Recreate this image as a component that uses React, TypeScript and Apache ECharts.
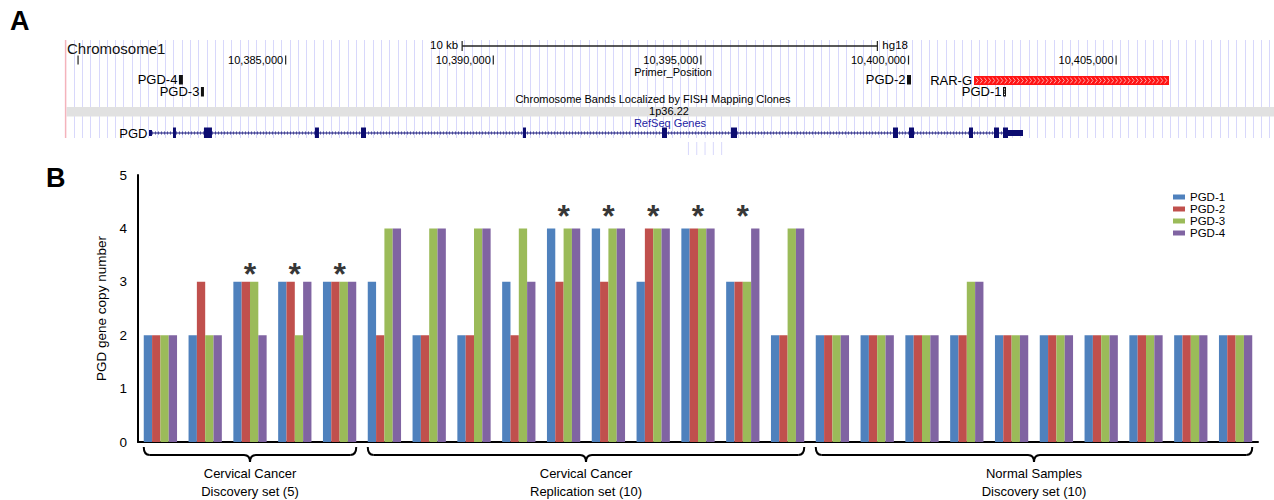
import React, { useEffect, useRef } from 'react';
import * as echarts from 'echarts';

const FONT = '"Liberation Sans", Arial, Helvetica, sans-serif';

// ---------- Panel B data ----------
const samples = [
  'D1', 'D2', 'D3', 'D4', 'D5',
  'R1', 'R2', 'R3', 'R4', 'R5', 'R6', 'R7', 'R8', 'R9', 'R10',
  'N1', 'N2', 'N3', 'N4', 'N5', 'N6', 'N7', 'N8', 'N9', 'N10',
];
const seriesNames = ['PGD-1', 'PGD-2', 'PGD-3', 'PGD-4'];
const seriesColors = ['#4f81bd', '#c0504d', '#9bbb59', '#8064a2'];
const pgd1 = [2, 2, 3, 3, 3, 3, 2, 2, 3, 4, 4, 3, 4, 3, 2, 2, 2, 2, 2, 2, 2, 2, 2, 2, 2];
const pgd2 = [2, 3, 3, 3, 3, 2, 2, 2, 2, 3, 3, 4, 4, 3, 2, 2, 2, 2, 2, 2, 2, 2, 2, 2, 2];
const pgd3 = [2, 2, 3, 2, 3, 4, 4, 4, 4, 4, 4, 4, 4, 3, 4, 2, 2, 2, 3, 2, 2, 2, 2, 2, 2];
const pgd4 = [2, 2, 2, 3, 3, 4, 4, 4, 3, 4, 4, 4, 4, 4, 4, 2, 2, 2, 3, 2, 2, 2, 2, 2, 2];
const seriesValues = [pgd1, pgd2, pgd3, pgd4];
const yMin = 0;
const yMax = 5;
const yInterval = 1;
// asterisk markers: [sample index, height in copy-number units]
const asterisks: [number, number][] = [
  [2, 3.3], [3, 3.3], [4, 3.3],
  [9, 4.4], [10, 4.4], [11, 4.4], [12, 4.4], [13, 4.4],
];
const sampleGroups = [
  { label: 'Cervical Cancer\nDiscovery set (5)', from: 0, to: 4 },
  { label: 'Cervical Cancer\nReplication set (10)', from: 5, to: 14 },
  { label: 'Normal Samples\nDiscovery set (10)', from: 15, to: 24 },
];
const BAR_CATEGORY_GAP = 0.257;

// ---------- Panel A data (hg18 coordinates) ----------
const viewStart = 10379700;
const viewEnd = 10408800;
const gridStep = 200;
const positionTicks = [10380000, 10385000, 10390000, 10395000, 10400000, 10405000];
const positionTickLabels = ['', '10,385,000', '10,390,000', '10,395,000', '10,400,000', '10,405,000'];
const scaleBar = [10389250, 10399250];
const primers: { name: string; start: number; end: number; row: number; hollow?: boolean }[] = [
  { name: 'PGD-4', start: 10382429, end: 10382525, row: 0 },
  { name: 'PGD-3', start: 10382959, end: 10383032, row: 1 },
  { name: 'PGD-2', start: 10399964, end: 10400060, row: 0 },
  { name: 'PGD-1', start: 10402276, end: 10402348, row: 1, hollow: true },
];
const rarG = { name: 'RAR-G', start: 10401578, end: 10406274 };
const pgdGene = { name: 'PGD', start: 10381708, end: 10402757 };
// [start, end, tall(1) / short(0)]
const pgdExons: [number, number, number][] = [
  [10381708, 10381780, 0],
  [10382286, 10382358, 1],
  [10383032, 10383225, 1],
  [10385706, 10385802, 1],
  [10386814, 10386934, 1],
  [10390716, 10390788, 1],
  [10394063, 10394184, 1],
  [10395725, 10395869, 1],
  [10399627, 10399747, 1],
  [10400012, 10400132, 1],
  [10401457, 10401553, 1],
  [10402059, 10402179, 1],
  [10402276, 10402396, 1],
  [10402396, 10402757, 0],
];
const ghostTicks = [10394700, 10394900, 10395100, 10395300, 10395500];

export default function App() {
  const ref = useRef<HTMLDivElement>(null);

  useEffect(() => {
    document.body.style.margin = '0';
    const chart = echarts.init(ref.current as HTMLDivElement, null, { renderer: 'svg' });

    const baseOption: any = {
      animation: false,
      textStyle: { fontFamily: FONT },
      grid: [
        { left: 138, right: 16, top: 175, bottom: 58, containLabel: false },
        { left: 65.6, right: 0.1, top: 40, height: 98, containLabel: false },
      ],
      legend: {
        data: seriesNames,
        orient: 'vertical',
        left: 1173,
        top: 191,
        icon: 'rect',
        itemWidth: 12,
        itemHeight: 5,
        itemGap: 0,
        padding: 0,
        textStyle: { fontSize: 11.5, color: '#000', lineHeight: 12, fontFamily: FONT },
      },
      xAxis: [
        {
          gridIndex: 0,
          type: 'category',
          data: samples,
          axisLine: { show: true, lineStyle: { color: '#000', width: 2 } },
          axisTick: { show: false },
          axisLabel: { show: false },
          splitLine: { show: false },
        },
        {
          gridIndex: 1,
          type: 'value',
          min: viewStart,
          max: viewEnd,
          interval: gridStep,
          axisLine: { show: false },
          axisTick: { show: false },
          axisLabel: { show: false },
          splitLine: { show: true, lineStyle: { color: '#d8d8fb', width: 1 } },
        },
      ],
      yAxis: [
        {
          gridIndex: 0,
          type: 'value',
          min: yMin,
          max: yMax,
          interval: yInterval,
          axisLine: { show: true, lineStyle: { color: '#000', width: 2 } },
          axisTick: { show: false },
          splitLine: { show: false },
          axisLabel: { fontSize: 13.5, color: '#000', margin: 11, fontFamily: FONT },
          name: 'PGD gene copy number',
          nameLocation: 'middle',
          nameGap: 27,
          nameTextStyle: { fontSize: 13.5, color: '#000', fontFamily: FONT },
        },
        {
          gridIndex: 1,
          type: 'value',
          min: 0,
          max: 1,
          show: false,
        },
      ],
      series: [
        ...seriesNames.map((name, i) => ({
          name,
          type: 'bar',
          xAxisIndex: 0,
          yAxisIndex: 0,
          data: seriesValues[i],
          barGap: '0%',
          barCategoryGap: `${BAR_CATEGORY_GAP * 100}%`,
          itemStyle: { color: seriesColors[i] },
        })),
        {
          name: 'significant',
          type: 'scatter',
          xAxisIndex: 0,
          yAxisIndex: 0,
          data: asterisks,
          symbolSize: 1,
          itemStyle: { color: 'rgba(0,0,0,0)' },
          label: {
            show: true,
            formatter: '*',
            position: 'inside',
            offset: [0, 8.5],
            fontSize: 32,
            fontWeight: 'bold',
            color: '#000',
            fontFamily: FONT,
          },
          z: 5,
        },
      ],
    };
    chart.setOption(baseOption);

    const gx = (bp: number) => chart.convertToPixel({ xAxisIndex: 1 } as any, bp) as unknown as number;
    const cx = (i: number) => chart.convertToPixel({ xAxisIndex: 0 } as any, i) as unknown as number;

    const els: any[] = [];
    const Z = 50;
    const txt = (text: string, x: number, y: number, o: any = {}) =>
      els.push({
        type: 'text',
        z: Z + 5,
        style: {
          text,
          x,
          y,
          fontFamily: FONT,
          fontSize: 11,
          fill: '#000',
          align: 'left',
          verticalAlign: 'middle',
          ...o,
        },
      });
    const line = (x1: number, y1: number, x2: number, y2: number, stroke = '#111', lineWidth = 1, extra: any = {}) =>
      els.push({ type: 'line', z: Z + 2, shape: { x1, y1, x2, y2 }, style: { stroke, lineWidth, ...extra } });
    const rect = (x: number, y: number, width: number, height: number, fill: string, z = Z + 3) =>
      els.push({ type: 'rect', z, shape: { x, y, width, height }, style: { fill } });

    // Panel letters
    txt('A', 10, 21, { fontSize: 27, fontWeight: 'bold', fill: '#000' });
    txt('B', 46, 178, { fontSize: 27, fontWeight: 'bold', fill: '#000' });

    // Panel A frame elements
    const left = gx(viewStart);
    const right = gx(viewEnd);
    line(left, 40, left, 138, '#f4b3bc', 1.5);
    rect(left + 1, 107, right - left, 9.5, '#e1e1e1', Z + 1);
    txt('Chromosome1', 67, 48, { fontSize: 15, fill: '#111' });

    // scale bar
    const sb0 = gx(scaleBar[0]);
    const sb1 = gx(scaleBar[1]);
    line(sb0, 46, sb1, 46, '#222', 1.3);
    line(sb0, 41, sb0, 51, '#222', 1.2);
    line(sb1, 41, sb1, 51, '#222', 1.2);
    txt('10 kb', sb0 - 4, 45, { align: 'right', fontSize: 11.5 });
    txt('hg18', sb1 + 5, 45, { fontSize: 11.5 });

    // position ticks
    positionTicks.forEach((t, i) => {
      const x = gx(t);
      line(x, 55.5, x, 64.5, '#222', 1.2);
      if (positionTickLabels[i]) txt(positionTickLabels[i], x - 2.5, 60, { align: 'right' });
    });

    txt('Primer_Position', 673, 72, { align: 'center' });
    txt('Chromosome Bands Localized by FISH Mapping Clones', 653, 98.5, { align: 'center' });
    txt('1p36.22', 669, 110.5, { align: 'center' });
    txt('RefSeq Genes', 670, 123, { align: 'center', fill: '#1d1da3' });

    // primers
    const rowTop = [75, 87];
    primers.forEach((p) => {
      const x0 = gx(p.start);
      const w = Math.max(gx(p.end) - x0, 3);
      rect(x0, rowTop[p.row], w, 9.5, '#111');
      if (p.hollow) {
        rect(x0 + 1, rowTop[p.row] + 1.5, w - 2, 6.5, '#fff', Z + 4);
        els.push({
          type: 'polyline',
          z: Z + 5,
          shape: { points: [[x0 + 1.2, rowTop[p.row] + 2.5], [x0 + w - 1.2, rowTop[p.row] + 4.75], [x0 + 1.2, rowTop[p.row] + 7]] },
          style: { stroke: '#111', lineWidth: 0.8, fill: 'none' },
        });
      }
      txt(p.name, x0 - 1.5, rowTop[p.row] + 4.8, { align: 'right', fontSize: 13 });
    });

    // RAR-G
    const r0 = gx(rarG.start);
    const r1 = gx(rarG.end);
    rect(r0, 76, r1 - r0, 9, '#ff1414');
    for (let x = r0 + 2; x < r1 - 3; x += 4.1) {
      els.push({
        type: 'polyline',
        z: Z + 4,
        shape: { points: [[x, 77.6], [x + 2.2, 80.5], [x, 83.4]] },
        style: { stroke: '#ffd0d0', lineWidth: 0.8, fill: 'none' },
      });
    }
    txt(rarG.name, r0 - 2, 80.5, { align: 'right', fontSize: 13 });

    // ghost ticks under gene track
    ghostTicks.forEach((t) => line(gx(t), 142, gx(t), 155, '#d8d8fb', 1));

    // PGD gene
    const g0 = gx(pgdGene.start);
    const g1 = gx(pgdGene.end);
    line(g0, 133, g1, 133, '#10107a', 1.2);
    line(g0, 133, g1, 133, 'rgba(16,16,122,0.55)', 3.5, { lineDash: [1, 2] });
    pgdExons.forEach(([s, e, tall]) => {
      const x0 = gx(s);
      const w = Math.max(gx(e) - x0, 2.2);
      if (tall) rect(x0, 127.5, w, 10.5, '#0c0c70');
      else rect(x0, 130, w, 6, '#0c0c70');
    });
    txt(pgdGene.name, g0 - 1.5, 133, { align: 'right', fontSize: 13 });

    // Panel B braces & group labels
    const band = cx(1) - cx(0);
    const half = (band * (1 - BAR_CATEGORY_GAP)) / 2;
    const yTop = 447;
    const yMid = 455;
    const yTip = 462;
    const r = 6;
    const bz = (x1: number, y1: number, cpx1: number, cpy1: number, x2: number, y2: number) =>
      els.push({
        type: 'bezierCurve',
        z: Z,
        shape: { x1, y1, cpx1, cpy1, x2, y2 },
        style: { stroke: '#000', lineWidth: 2, fill: 'none' },
      });
    sampleGroups.forEach((g) => {
      const xL = cx(g.from) - half;
      const xR = cx(g.to) + half;
      const xc = (xL + xR) / 2;
      bz(xL, yTop, xL, yMid, xL + r, yMid);
      line(xL + r, yMid, xc - r, yMid, '#000', 2);
      bz(xc - r, yMid, xc, yMid, xc, yTip);
      bz(xc, yTip, xc, yMid, xc + r, yMid);
      line(xc + r, yMid, xR - r, yMid, '#000', 2);
      bz(xR - r, yMid, xR, yMid, xR, yTop);
      txt(g.label, xc, 482, { align: 'center', fontSize: 13, lineHeight: 18, fill: '#000' });
    });

    chart.setOption({ graphic: { elements: els } });

    return () => chart.dispose();
  }, []);

  return <div ref={ref} style={{ width: 1274, height: 500 }} />;
}
